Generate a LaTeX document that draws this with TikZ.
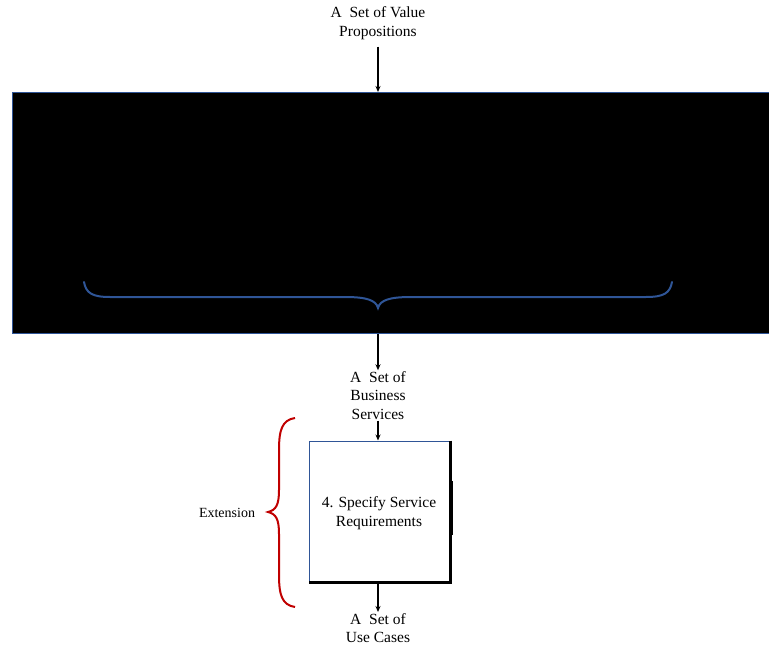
\documentclass[tikz,border=0pt]{standalone}
\usepackage{fontspec}
\setmainfont{Liberation Serif}
\usetikzlibrary{arrows.meta}
\definecolor{bord}{RGB}{47,85,151}
\definecolor{bracered}{RGB}{192,0,0}
\begin{document}
\begin{tikzpicture}[x=1pt,y=-1pt,
  lbl/.style={align=center,font=\fontsize{15.5}{18.5}\selectfont,inner sep=1pt},
  flow/.style={-{Stealth[length=6pt,width=5pt]},line width=1.4pt},
  bluebrace/.style={draw=bord,line width=2pt},
  redbrace/.style={draw=bracered,line width=2pt}]
\useasboundingbox (0,0) rectangle (769,645);
% big black panel
\node[draw=bord,fill=black,line width=1.2pt,minimum width=770pt,minimum height=241pt,anchor=north west,inner sep=0] (panel) at (12,92) {};
% blue brace inside
\draw[bluebrace,line cap=round] (84,282) .. controls (86,293) and (92,297) .. (110,297)
  -- (345,297) .. controls (366,297) and (376,300) .. (378,308)
  .. controls (380,300) and (390,297) .. (411,297)
  -- (646,297) .. controls (664,297) and (670,293) .. (672,282);
% labels
\node[lbl] (vp) at (378,23) {A \ Set of Value\\Propositions};
\node[lbl] (bs) at (378,395.5) {A \ Set of\\Business\\Services};
\node[lbl] (uc) at (378,628) {A \ Set of\\Use Cases};
\node[font=\fontsize{14}{16}\selectfont] (ext) at (227,513) {Extension};
% step box
\node[draw=bord,fill=white,line width=1pt,minimum width=141pt,minimum height=141pt,inner sep=0,
  align=center,font=\fontsize{15.5}{19}\selectfont] (box) at (379.5,511.5) {};
\node[align=center,font=\fontsize{15.5}{19}\selectfont,inner sep=0] (boxtxt) at (379,513.5) {4. Specify Service\\Requirements};
\draw[line width=2.5pt] (box.north east) -- (box.south east) -- (box.south west);
\draw[line width=2pt] ([xshift=1.5pt,yshift=-23pt]box.east) -- ([xshift=1.5pt,yshift=31pt]box.east);
% red brace
\draw[redbrace] (295,418) .. controls (282,420) and (279,430) .. (279,450)
  -- (279,490) .. controls (279,505) and (276,510) .. (268,512)
  .. controls (276,514) and (279,519) .. (279,534)
  -- (279,575) .. controls (279,595) and (282,605) .. (295,607);
% connectors
\draw[flow] ([yshift=-6pt]vp.south) -- (panel.north -| vp.south);
\draw[flow] (panel.south -| bs.north) -- (bs.north);
\draw[flow] (bs.south) -- (box.north -| bs.south);
\draw[flow] (box.south -| uc.north) -- (uc.north);
\end{tikzpicture}
\end{document}
